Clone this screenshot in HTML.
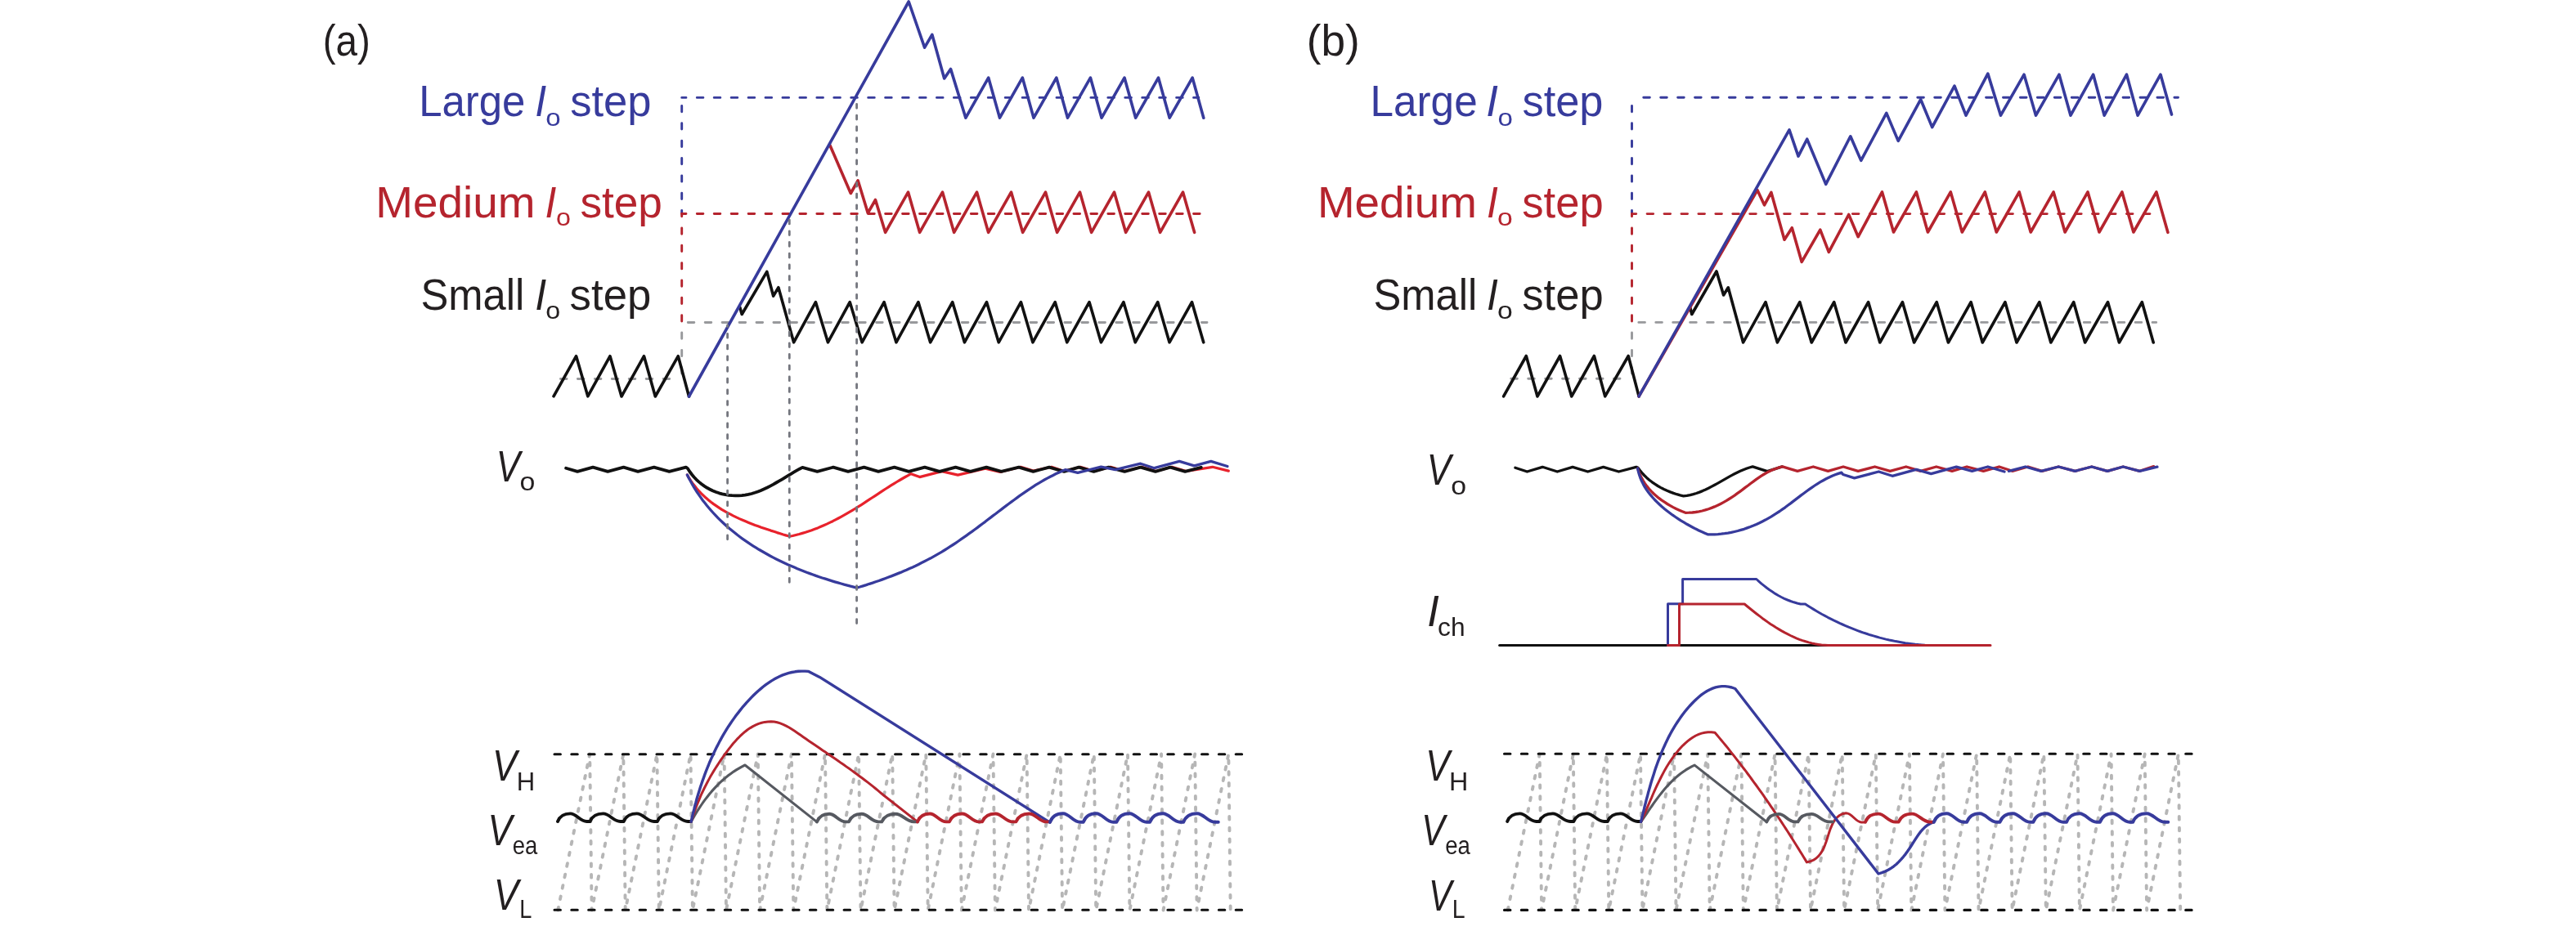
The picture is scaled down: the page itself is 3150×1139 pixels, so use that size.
<!DOCTYPE html>
<html><head><meta charset="utf-8"><title>Load-step transient waveforms</title>
<style>html,body{margin:0;padding:0;background:#fff}svg{display:block}text{font-family:"Liberation Sans",sans-serif}</style></head>
<body><svg width="3150" height="1139" viewBox="0 0 3150 1139">
<defs><filter id="nolcd" filterUnits="userSpaceOnUse" x="0" y="0" width="3150" height="1139"><feOffset dx="0" dy="0"/></filter></defs>
<rect width="3150" height="1139" fill="#fff"/>
<path d="M684,463.5 L832,463.5" stroke="#98999c" stroke-width="2.9" fill="none" stroke-dasharray="7.6 13.34" stroke-linecap="round" stroke-dashoffset="19.49"/>
<path d="M833.7,119.4 L833.7,261.5" stroke="#373b9c" stroke-width="2.9" fill="none" stroke-dasharray="7.3 14.05" stroke-linecap="round" stroke-dashoffset="11.30"/>
<path d="M833.7,261.5 L833.7,394.5" stroke="#b5242e" stroke-width="2.9" fill="none" stroke-dasharray="7.3 14.05" stroke-linecap="round" stroke-dashoffset="3.95"/>
<path d="M833.7,394.5 L833.7,463.5" stroke="#98999c" stroke-width="2.9" fill="none" stroke-dasharray="7.3 14.05" stroke-linecap="round" stroke-dashoffset="8.85"/>
<path d="M839,394.5 L1476,394.5" stroke="#98999c" stroke-width="2.9" fill="none" stroke-dasharray="7.6 13.34" stroke-linecap="round" stroke-dashoffset="18.69"/>
<path d="M833.7,261.5 L1469.4,261.5" stroke="#b5242e" stroke-width="2.9" fill="none" stroke-dasharray="7.6 13.34" stroke-linecap="round" stroke-dashoffset="2.35"/>
<path d="M833.7,119.4 L1465.8,119.4" stroke="#373b9c" stroke-width="2.9" fill="none" stroke-dasharray="7.6 13.34" stroke-linecap="round" stroke-dashoffset="2.35"/>
<path d="M677,484.8 L704.6,435.7 L718.8,484.8 L746,435.7 L760,485 L787.5,435.7 L801.3,485 L829.3,435.7 L842.5,485" stroke="#111111" stroke-width="3.6" fill="none" stroke-linejoin="round" stroke-linecap="round" />
<path d="M904.7,375.8 L907.2,384.5 L937.8,332.4 L945.7,362.2 L951.9,351.7 L970.6,418.8 L997.4,369.6 L1012.4,418.8 L1039.2,369.6 L1054.1,418.8 L1081.1,369.6 L1095.9,418.8 L1122.9,369.6 L1137.6,418.8 L1164.7,369.6 L1179.4,418.8 L1206.5,369.6 L1221.2,418.8 L1248.4,369.6 L1262.9,418.8 L1290.2,369.6 L1304.7,418.8 L1332,369.6 L1346.4,418.8 L1373.9,369.6 L1388.2,418.8 L1415.7,369.6 L1430,418.8 L1457.5,369.6 L1471.7,418.8" stroke="#111111" stroke-width="3.6" fill="none" stroke-linejoin="round" stroke-linecap="round" />
<path d="M1014.9,177.8 L1040.3,236.5 L1049.1,220.8 L1061.3,260.6 L1070.5,244.5 L1082.6,284.3 L1110.5,235.1 L1124.6,284.3 L1152.5,235.1 L1166.6,284.3 L1194.5,235.1 L1208.6,284.3 L1236.5,235.1 L1250.6,284.3 L1278.5,235.1 L1292.6,284.3 L1320.5,235.1 L1334.6,284.3 L1362.5,235.1 L1376.6,284.3 L1404.5,235.1 L1418.6,284.3 L1446.5,235.1 L1460.6,284.3" stroke="#b5242e" stroke-width="3.6" fill="none" stroke-linejoin="round" stroke-linecap="round" />
<path d="M842.5,485 L1111.2,2 L1130.6,58.2 L1139.8,42.3 L1154.7,96 L1162.5,84.4 L1180.9,144.2 L1208.7,95.1 L1222.5,144.2 L1250.3,95.1 L1264,144.2 L1291.8,95.1 L1305.5,144.2 L1333.4,95.1 L1347.1,144.2 L1375,95.1 L1388.7,144.2 L1416.5,95.1 L1430.2,144.2 L1458.1,95.1 L1471.8,144.2" stroke="#373b9c" stroke-width="3.6" fill="none" stroke-linejoin="round" stroke-linecap="round" />
<path d="M840.4,581 L842.5,584.6 L844.7,588.1 L847,591.4 L849.5,594.6 L852,597.7 L854.7,600.7 L857.4,603.6 L860.3,606.4 L863.2,609.1 L866.3,611.7 L869.4,614.2 L872.6,616.6 L875.9,618.9 L879.2,621.1 L882.6,623.3 L886.1,625.3 L889.6,627.3 L893.2,629.2 L896.8,631.1 L900.5,632.9 L904.2,634.6 L908,636.2 L911.7,637.8 L915.6,639.4 L919.4,640.9 L923.2,642.4 L927.1,643.8 L930.9,645.2 L934.8,646.5 L938.7,647.8 L942.5,649.1 L946.4,650.3 L950.2,651.6 L954,652.8 L957.8,654 L961.6,655.1 L965.3,656.3 L969.3,655.5 L973.3,654.5 L977.2,653.5 L981.1,652.4 L984.9,651.3 L988.7,650 L992.5,648.7 L996.3,647.3 L1000,645.9 L1003.7,644.3 L1007.3,642.7 L1011,641.1 L1014.6,639.4 L1018.2,637.7 L1021.7,635.9 L1025.3,634 L1028.8,632.1 L1032.3,630.2 L1035.8,628.2 L1039.2,626.2 L1042.7,624.1 L1046.1,622 L1049.5,619.9 L1052.9,617.8 L1056.3,615.6 L1059.6,613.4 L1063,611.2 L1066.3,609 L1069.7,606.8 L1073.1,604.6 L1076.4,602.4 L1079.8,600.2 L1083.1,598 L1086.5,595.9 L1089.9,593.7 L1093.3,591.6 L1096.7,589.5 L1100.1,587.5 L1103.5,585.5 L1107,583.5 L1110.5,581.6 L1114,579.7 L1124.6,583.6 L1151.7,576.6 L1171.3,581.1 L1204.8,573.3 L1223,577.5 L1248.1,571.3 L1263.5,576.1 L1285.8,571.3 L1301.2,576.5 L1321,571.3 L1338,576.5 L1358,571.3 L1375.5,576.5 L1396,571.3 L1413.5,576.5 L1433,571.3 L1450.5,576.5 L1482.7,571.3 L1502.3,576.1" stroke="#e8222c" stroke-width="3.2" fill="none" stroke-linejoin="round" stroke-linecap="round" />
<path d="M692.1,572.7 L706.1,576.9 L725.1,571.6 L743.2,576.9 L762.5,571.6 L780.1,576.9 L799.7,571.6 L818.4,576.9 L838.8,571.6 L841,573.3 L843.4,577 L846,580.5 L848.7,583.7 L851.6,586.8 L854.7,589.6 L857.9,592.2 L861.2,594.6 L864.6,596.8 L868.2,598.7 L871.8,600.5 L875.6,602 L879.4,603.3 L883.2,604.3 L887.2,605.2 L891.1,605.8 L895.1,606.2 L899.1,606.4 L903.1,606.4 L907.1,606.1 L911.1,605.6 L915.1,604.9 L919,604 L922.9,602.8 L926.8,601.5 L930.6,600 L934.4,598.3 L938.2,596.5 L941.9,594.6 L945.6,592.6 L949.2,590.5 L952.9,588.4 L956.5,586.3 L960.1,584.1 L963.7,581.9 L967.2,579.8 L970.7,577.7 L974.2,575.7 L977.7,573.7 L981.2,571.9 L999.4,576.9 L1018.9,571.6 L1037.1,576.9 L1056.5,571.6 L1074.1,576.9 L1093.6,571.6 L1111.2,576.9 L1130.8,571.6 L1148.9,576.9 L1168.5,571.6 L1186.6,576.9 L1206.2,571.6 L1224.4,576.9 L1245.9,571.6 L1263.5,576.9 L1283,571.6 L1301.2,576.9 L1319.3,571.6 L1337.5,576.9 L1355.6,571.6 L1375.2,576.9 L1394.7,571.6 L1412.9,576.9 L1431,571.6 L1449.2,576.9 L1468.8,571.9" stroke="#111111" stroke-width="3.8" fill="none" stroke-linejoin="round" stroke-linecap="round" />
<path d="M840.4,581 L842.2,584.7 L844.2,588.3 L846.2,591.9 L848.2,595.4 L850.3,598.9 L852.5,602.3 L854.8,605.6 L857.1,608.9 L859.4,612.2 L861.9,615.3 L864.4,618.5 L866.9,621.5 L869.5,624.5 L872.2,627.5 L874.9,630.4 L877.7,633.3 L880.5,636.1 L883.3,638.8 L886.2,641.5 L889.2,644.2 L892.2,646.8 L895.3,649.3 L898.4,651.8 L901.5,654.3 L904.7,656.7 L907.9,659.1 L911.2,661.4 L914.5,663.7 L917.8,665.9 L921.2,668.1 L924.6,670.2 L928,672.3 L931.5,674.3 L935,676.3 L938.5,678.3 L942,680.2 L945.6,682.1 L949.2,683.9 L952.8,685.7 L956.5,687.5 L960.2,689.2 L963.9,690.9 L967.6,692.5 L971.3,694.1 L975,695.7 L978.8,697.2 L982.6,698.7 L986.4,700.2 L990.2,701.6 L994,703 L997.8,704.4 L1001.6,705.7 L1005.4,707 L1009.3,708.2 L1013.1,709.4 L1016.9,710.6 L1020.8,711.8 L1024.6,712.9 L1028.5,714 L1032.3,715.1 L1036.1,716.1 L1040,717.2 L1043.8,718.1 L1047.6,719.1 L1051.5,718 L1055.4,716.8 L1059.3,715.6 L1063.1,714.3 L1067,713.1 L1070.8,711.8 L1074.7,710.5 L1078.5,709.1 L1082.3,707.7 L1086.1,706.3 L1089.9,704.9 L1093.7,703.4 L1097.4,701.9 L1101.2,700.4 L1104.9,698.8 L1108.6,697.2 L1112.3,695.5 L1116,693.9 L1119.7,692.2 L1123.3,690.4 L1126.9,688.6 L1130.5,686.8 L1134.1,684.9 L1137.7,683.1 L1141.2,681.1 L1144.7,679.1 L1148.2,677.1 L1151.7,675.1 L1155.1,673 L1158.5,670.9 L1161.9,668.7 L1165.3,666.5 L1168.6,664.3 L1172,662 L1175.3,659.7 L1178.6,657.4 L1181.9,655.1 L1185.2,652.7 L1188.5,650.4 L1191.7,648 L1195,645.6 L1198.2,643.1 L1201.4,640.7 L1204.7,638.3 L1207.9,635.8 L1211.1,633.4 L1214.3,630.9 L1217.6,628.5 L1220.8,626 L1224,623.6 L1227.2,621.1 L1230.5,618.7 L1233.7,616.3 L1236.9,613.9 L1240.2,611.5 L1243.4,609.1 L1246.7,606.7 L1250,604.4 L1253.3,602.1 L1256.6,599.8 L1260,597.6 L1263.4,595.4 L1266.7,593.2 L1270.2,591.1 L1273.6,589.1 L1277.1,587 L1280.6,585.1 L1284.2,583.2 L1287.8,581.4 L1291.4,579.6 L1295.1,577.9 L1298.8,576.3 L1302.6,574.7 L1317.9,578.3 L1346.4,571.1 L1364,574.7 L1394.7,567.2 L1411.5,572.7 L1442.2,564.4 L1460.4,569.9 L1480.8,564.4 L1500.9,570.5" stroke="#373b9c" stroke-width="3.3" fill="none" stroke-linejoin="round" stroke-linecap="round" />
<path d="M889.6,659.8 L889.6,398" stroke="#74767e" stroke-width="2.8" fill="none" stroke-dasharray="4.8 8.9" stroke-linecap="round" stroke-dashoffset="0"/>
<path d="M965.3,712.3 L965.3,265" stroke="#74767e" stroke-width="2.8" fill="none" stroke-dasharray="4.8 8.9" stroke-linecap="round" stroke-dashoffset="0"/>
<path d="M1047.6,762.5 L1047.6,123" stroke="#74767e" stroke-width="2.8" fill="none" stroke-dasharray="4.8 8.9" stroke-linecap="round" stroke-dashoffset="0"/>
<path d="M682.2,1113.5 L721.2,922.5 L723.6,1113.5 L762.3,922.5 L764.7,1113.5 L803.4,922.5 L805.8,1113.5 L844.5,922.5 L846.9,1113.5 L885.6,922.5 L888,1113.5 L926.8,922.5 L929.1,1113.5 L967.9,922.5 L970.3,1113.5 L1009,922.5 L1011.4,1113.5 L1050.1,922.5 L1052.5,1113.5 L1091.2,922.5 L1093.6,1113.5 L1132.3,922.5 L1134.7,1113.5 L1173.4,922.5 L1175.8,1113.5 L1214.5,922.5 L1216.9,1113.5 L1255.6,922.5 L1258,1113.5 L1296.7,922.5 L1299.1,1113.5 L1337.8,922.5 L1340.2,1113.5 L1379,922.5 L1381.4,1113.5 L1420.1,922.5 L1422.5,1113.5 L1461.2,922.5 L1463.6,1113.5 L1502.3,922.5 L1504.7,1113.5" stroke="#b6b6b6" stroke-width="3.9" fill="none" stroke-dasharray="3.6 10.1" stroke-linecap="round" stroke-linejoin="round"/>
<path d="M1843.7,1113.5 L1882.7,922.5 L1885.1,1113.5 L1923.8,922.5 L1926.2,1113.5 L1964.9,922.5 L1967.3,1113.5 L2006,922.5 L2008.4,1113.5 L2047.1,922.5 L2049.5,1113.5 L2088.2,922.5 L2090.7,1113.5 L2129.4,922.5 L2131.8,1113.5 L2170.5,922.5 L2172.9,1113.5 L2211.6,922.5 L2214,1113.5 L2252.7,922.5 L2255.1,1113.5 L2293.8,922.5 L2296.2,1113.5 L2334.9,922.5 L2337.3,1113.5 L2376,922.5 L2378.4,1113.5 L2417.1,922.5 L2419.5,1113.5 L2458.2,922.5 L2460.6,1113.5 L2499.3,922.5 L2501.8,1113.5 L2540.5,922.5 L2542.9,1113.5 L2581.6,922.5 L2584,1113.5 L2622.7,922.5 L2625.1,1113.5 L2663.8,922.5 L2666.2,1113.5" stroke="#b6b6b6" stroke-width="3.9" fill="none" stroke-dasharray="3.6 10.1" stroke-linecap="round" stroke-linejoin="round"/>
<path d="M678,922.7 L1520,922.7" stroke="#111111" stroke-width="3.1" fill="none" stroke-dasharray="7.4 13.43" stroke-linecap="round" stroke-dashoffset="0"/>
<path d="M678,1113.3 L1520,1113.3" stroke="#111111" stroke-width="3.1" fill="none" stroke-dasharray="7.4 13.43" stroke-linecap="round" stroke-dashoffset="0"/>
<path d="M1839.5,922.3 L2681.5,922.3" stroke="#111111" stroke-width="3.1" fill="none" stroke-dasharray="7.4 13.43" stroke-linecap="round" stroke-dashoffset="0"/>
<path d="M1839.5,1113.4 L2681.5,1113.4" stroke="#111111" stroke-width="3.1" fill="none" stroke-dasharray="7.4 13.43" stroke-linecap="round" stroke-dashoffset="0"/>
<path d="M682,1005 C684.8,997.8 690.3,995.4 697.4,995.4 C704.9,995.4 709.3,1005 717.5,1005 L721.5,1005 C724.4,997.8 730.2,995.4 737.6,995.4 C745.4,995.4 749.9,1005 758.6,1005 L762.7,1005 C765.6,997.8 771.3,995.4 778.7,995.4 C786.5,995.4 791.1,1005 799.7,1005 L803.8,1005 C806.7,997.8 812.5,995.4 819.9,995.4 C827.8,995.4 832.4,1005 841.1,1005 L845.2,1005" stroke="#111111" stroke-width="3.9" fill="none" stroke-linejoin="round" stroke-linecap="round" />
<path d="M845.2,1005.2 L847.1,1001.7 L849.1,998.2 L851.2,994.8 L853.3,991.3 L855.5,987.9 L857.8,984.5 L860.1,981.2 L862.5,977.9 L865,974.7 L867.5,971.5 L870.1,968.4 L872.8,965.4 L875.6,962.4 L878.4,959.5 L881.3,956.7 L884.3,954 L887.4,951.4 L890.5,948.8 L893.7,946.4 L897,944.1 L900.4,941.9 L903.9,939.8 L907.4,937.8 L911,936 L999,1005.6 " stroke="#565960" stroke-width="3.1" fill="none" stroke-linejoin="round" stroke-linecap="round" />
<path d="M845.2,1005.2 L846.5,1001.2 L847.8,997.2 L849.1,993.3 L850.5,989.5 L851.9,985.7 L853.4,981.9 L854.9,978.3 L856.4,974.6 L858,971 L859.7,967.5 L861.4,964 L863.2,960.5 L865,957 L866.8,953.6 L868.7,950.1 L870.7,946.7 L872.7,943.4 L874.8,940 L877,936.6 L879.2,933.2 L881.4,929.9 L883.8,926.5 L886.2,923.1 L888.6,919.8 L891.2,916.4 L893.8,913.1 L896.4,909.8 L899.2,906.7 L902,903.6 L904.9,900.7 L907.9,897.9 L911,895.2 L914.1,892.8 L917.4,890.6 L920.7,888.6 L924.2,886.9 L927.7,885.4 L931.4,884.3 L935.1,883.4 L939,883 L942.8,882.8 L946.6,883.1 L950.4,883.8 L954.1,884.9 L957.7,886.3 L961.4,888.1 L964.9,890 L968.5,892.2 L972,894.5 L975.5,896.9 L978.9,899.3 L982.3,901.7 L985.7,904.1 L989.1,906.4 L992.5,908.8 L995.9,911.1 L999.2,913.3 L1002.5,915.6 L1005.9,917.9 L1009.2,920.1 L1012.5,922.4 L1015.7,924.6 L1019,926.8 L1022.3,929.1 L1025.5,931.3 L1028.7,933.6 L1032,935.8 L1035.2,938.1 L1038.4,940.3 L1041.6,942.6 L1044.8,945 L1048,947.3 L1051.2,949.7 L1054.4,952 L1057.6,954.5 L1060.8,956.9 L1064,959.4 L1067.2,961.9 L1070.4,964.5 L1073.6,967.1 L1076.8,969.8 L1080,972.5 L1121.9,1005.4 " stroke="#b5242e" stroke-width="3.0" fill="none" stroke-linejoin="round" stroke-linecap="round" />
<path d="M845.2,1005.2 L846,1001.4 L846.9,997.6 L847.8,993.7 L848.8,989.9 L849.7,986 L850.8,982.2 L851.8,978.3 L852.9,974.4 L854.1,970.6 L855.3,966.7 L856.5,962.8 L857.8,959 L859.1,955.1 L860.5,951.3 L861.9,947.4 L863.3,943.6 L864.8,939.8 L866.4,936 L867.9,932.2 L869.6,928.4 L871.3,924.7 L873,921 L874.8,917.3 L876.6,913.6 L878.5,910 L880.4,906.3 L882.4,902.7 L884.4,899.2 L886.5,895.7 L888.6,892.2 L890.8,888.7 L893.1,885.3 L895.4,881.9 L897.7,878.6 L900.1,875.3 L902.6,872.1 L905.1,868.9 L907.6,865.7 L910.3,862.6 L912.9,859.6 L915.7,856.6 L918.5,853.6 L921.3,850.8 L924.2,848 L927.2,845.2 L930.3,842.6 L933.4,840 L936.5,837.6 L939.8,835.3 L943.1,833.1 L946.5,831.1 L949.9,829.2 L953.4,827.5 L957,825.9 L960.7,824.6 L964.5,823.4 L968.3,822.5 L972.2,821.8 L976.3,821.3 L980.3,821.1 L984.5,821.1 L988.8,821.4 L1002.3,828.4 L1283.8,1006.1 " stroke="#373b9c" stroke-width="3.4" fill="none" stroke-linejoin="round" stroke-linecap="round" />
<path d="M999,1005.4 C1001.7,998.2 1007.2,995.8 1014.2,995.8 C1021.6,995.8 1025.9,1005.4 1034.1,1005.4 L1038,1005.4 C1040.8,998.2 1046.4,995.8 1053.7,995.8 C1061.3,995.8 1065.7,1005.4 1074.2,1005.4 L1078.2,1005.4 C1081.3,998.2 1087.4,995.8 1095.2,995.8 C1103.5,995.8 1108.4,1005.4 1117.5,1005.4 L1121.9,1005.4" stroke="#565960" stroke-width="3.9" fill="none" stroke-linejoin="round" stroke-linecap="round" />
<path d="M1121.9,1005.4 C1124.6,998 1130.1,995.5 1137.1,995.5 C1144.5,995.5 1148.8,1005.4 1157,1005.4 L1160.9,1005.4 C1163.7,998 1169.3,995.5 1176.6,995.5 C1184.2,995.5 1188.6,1005.4 1197.1,1005.4 L1201.1,1005.4 C1204,998 1209.8,995.5 1217.2,995.5 C1225.1,995.5 1229.6,1005.4 1238.3,1005.4 L1242.4,1005.4 C1245.3,998 1251.1,995.5 1258.5,995.5 C1266.4,995.5 1271,1005.4 1279.7,1005.4 L1283.8,1005.4" stroke="#b5242e" stroke-width="3.9" fill="none" stroke-linejoin="round" stroke-linecap="round" />
<path d="M1284,1005.8 C1286.8,997.9 1292.5,995.2 1299.9,995.2 C1307.6,995.2 1312.1,1005.8 1320.6,1005.8 L1324.7,1005.8 C1327.5,997.9 1333.2,995.2 1340.5,995.2 C1348.2,995.2 1352.7,1005.8 1361.2,1005.8 L1365.3,1005.8 C1368.2,997.9 1373.9,995.2 1381.2,995.2 C1389,995.2 1393.5,1005.8 1402,1005.8 L1406.1,1005.8 C1409,997.9 1414.7,995.2 1422.1,995.2 C1429.9,995.2 1434.5,1005.8 1443.1,1005.8 L1447.2,1005.8 C1450.2,997.9 1456.1,995.2 1463.8,995.2 C1471.9,995.2 1476.6,1005.8 1485.5,1005.8 L1489.8,1005.8" stroke="#373b9c" stroke-width="3.9" fill="none" stroke-linejoin="round" stroke-linecap="round" />
<path d="M1846.3,463.2 L1994,463.2" stroke="#98999c" stroke-width="2.9" fill="none" stroke-dasharray="7.6 13.34" stroke-linecap="round" stroke-dashoffset="19.49"/>
<path d="M1995.5,119.2 L1995.5,261.6" stroke="#373b9c" stroke-width="2.9" fill="none" stroke-dasharray="7.3 14.05" stroke-linecap="round" stroke-dashoffset="11.10"/>
<path d="M1995.5,261.6 L1995.5,394.4" stroke="#b5242e" stroke-width="2.9" fill="none" stroke-dasharray="7.3 14.05" stroke-linecap="round" stroke-dashoffset="4.05"/>
<path d="M1995.5,394.4 L1995.5,463.2" stroke="#98999c" stroke-width="2.9" fill="none" stroke-dasharray="7.3 14.05" stroke-linecap="round" stroke-dashoffset="8.75"/>
<path d="M2001,394.4 L2636.7,394.4" stroke="#98999c" stroke-width="2.9" fill="none" stroke-dasharray="7.6 13.34" stroke-linecap="round" stroke-dashoffset="18.09"/>
<path d="M1995.5,261.6 L2631,261.6" stroke="#b5242e" stroke-width="2.9" fill="none" stroke-dasharray="7.6 13.34" stroke-linecap="round" stroke-dashoffset="2.35"/>
<path d="M2007,119.2 L2663.5,119.2" stroke="#373b9c" stroke-width="2.9" fill="none" stroke-dasharray="7.6 13.34" stroke-linecap="round" stroke-dashoffset="18.19"/>
<path d="M1838.6,484.9 L1866.3,435.5 L1880,484.9 L1907.6,435.5 L1921.8,484.9 L1949.4,435.5 L1962.7,484.9 L1991.2,435.5 L2004.1,484.9" stroke="#111111" stroke-width="3.6" fill="none" stroke-linejoin="round" stroke-linecap="round" />
<path d="M2066.7,376.3 L2068.8,384.5 L2099,332 L2107.6,361 L2113.3,351.8 L2131.6,419 L2159,369.6 L2173.4,419 L2200.8,369.6 L2215.2,419 L2242.7,369.6 L2257,419 L2284.6,369.6 L2298.8,419 L2326.4,369.6 L2340.6,419 L2368.2,369.6 L2382.4,419 L2410.1,369.6 L2424.2,419 L2451.9,369.6 L2466,419 L2493.8,369.6 L2507.8,419 L2535.7,369.6 L2549.6,419 L2577.5,369.6 L2591.4,419 L2619.3,369.6 L2633.2,419" stroke="#111111" stroke-width="3.6" fill="none" stroke-linejoin="round" stroke-linecap="round" />
<path d="M2004.1,484.9 L2148.9,232.6 L2157.5,250.8 L2165.9,235.4 L2182,293.2 L2191.3,278.7 L2203.2,320.4 L2225.8,281.1 L2236.3,308.3 L2260.7,262.5 L2272.2,289.7 L2301.5,234.9 L2315.5,284 L2343.4,234.9 L2357.4,284 L2385.3,234.9 L2399.3,284 L2427.3,234.9 L2441.3,284 L2469.2,234.9 L2483.2,284 L2511.1,234.9 L2525.1,284 L2553,234.9 L2567,284 L2594.9,234.9 L2608.9,284 L2636.9,234.9 L2650.9,284.3" stroke="#b5242e" stroke-width="3.6" fill="none" stroke-linejoin="round" stroke-linecap="round" />
<path d="M2004.1,484.9 L2188,158.8 L2199,191.1 L2209.7,170.2 L2232.7,225.4 L2262.8,166.8 L2275.7,196.4 L2306.8,138.4 L2321.2,172.4 L2348.7,121.7 L2362.7,155.6 L2390,105.1 L2404,141.2 L2430.8,90.1 L2446.5,141.2 L2475.1,91.2 L2489.5,141.2 L2518,91.2 L2532,141.2 L2559.7,91.2 L2573.2,141.2 L2600.5,91.2 L2614.1,141.2 L2642,91.2 L2655.5,140.1" stroke="#373b9c" stroke-width="3.6" fill="none" stroke-linejoin="round" stroke-linecap="round" />
<path d="M1852.9,572.3 L1867.4,577 L1886.2,571.3 L1904.3,577 L1923.1,571.3 L1941.6,577 L1960.6,571.3 L1979.4,577 L2000.8,571.3 L2002.7,572 L2005,575.1 L2007.7,578.4 L2010.6,581.5 L2013.6,584.4 L2016.8,587.2 L2020.2,589.8 L2023.6,592.2 L2027.2,594.5 L2030.9,596.6 L2034.6,598.5 L2038.5,600.3 L2042.4,601.9 L2046.4,603.4 L2050.4,604.7 L2054.5,605.9 L2058.6,606.9 L2062.7,606.4 L2066.7,605.6 L2070.6,604.6 L2074.4,603.5 L2078.2,602.1 L2081.9,600.6 L2085.6,599 L2089.2,597.3 L2092.7,595.4 L2096.3,593.5 L2099.8,591.6 L2103.3,589.6 L2106.8,587.6 L2110.3,585.6 L2113.8,583.6 L2117.4,581.6 L2120.9,579.8 L2124.5,578 L2128.1,576.3 L2131.8,574.7 L2135.5,573.3 L2139.3,572 L2143.2,570.9 L2161.1,576.6 L2179.3,570.9" stroke="#111111" stroke-width="3.3" fill="none" stroke-linejoin="round" stroke-linecap="round" />
<path d="M2002.6,573 L2003.9,577 L2005.5,580.8 L2007.3,584.6 L2009.3,588.1 L2011.5,591.6 L2013.9,594.9 L2016.5,598 L2019.3,601.1 L2022.2,604 L2025.3,606.7 L2028.5,609.4 L2031.8,611.9 L2035.3,614.2 L2038.8,616.5 L2042.4,618.6 L2046,620.6 L2049.7,622.5 L2053.5,624.2 L2057.2,625.8 L2061,627.3 L2065.2,627.2 L2069.4,627 L2073.5,626.5 L2077.5,625.8 L2081.5,625 L2085.4,623.9 L2089.2,622.7 L2092.9,621.4 L2096.6,619.9 L2100.3,618.3 L2103.9,616.5 L2107.4,614.6 L2110.9,612.6 L2114.3,610.5 L2117.7,608.3 L2121.1,606.1 L2124.4,603.7 L2127.7,601.3 L2131,598.9 L2134.2,596.4 L2137.5,594 L2140.7,591.5 L2144,589.1 L2147.3,586.7 L2150.6,584.4 L2153.9,582.2 L2157.4,580 L2160.8,578.1 L2164.4,576.3 L2168,574.6 L2171.8,573.2 L2175.6,571.9 L2179.6,570.9 L2198,576.3 L2217.3,571 L2235.4,576.3 L2254,571 L2272.1,576.3 L2292.6,571 L2311.2,576.3 L2330.8,571 L2348.6,576.3 L2367.8,571 L2387,576.3 L2405.1,571 L2425.4,576.3 L2444.6,571 L2460.7,576.3 L2479.9,571 L2497,576.3 L2517.2,571 L2537.5,576.3 L2557.8,571 L2577,576.3 L2596.2,571 L2616.5,576.3 L2633.6,570.6" stroke="#b5242e" stroke-width="3.3" fill="none" stroke-linejoin="round" stroke-linecap="round" />
<path d="M2002.6,573 L2003.5,577.1 L2004.6,581 L2005.9,584.8 L2007.5,588.5 L2009.3,592.1 L2011.2,595.6 L2013.4,599 L2015.7,602.2 L2018.2,605.4 L2020.8,608.5 L2023.5,611.5 L2026.4,614.4 L2029.4,617.3 L2032.4,620 L2035.6,622.7 L2038.8,625.2 L2042.1,627.7 L2045.4,630.2 L2048.8,632.5 L2052.3,634.8 L2055.8,637.1 L2059.3,639.2 L2062.8,641.3 L2066.4,643.3 L2070,645.2 L2073.6,647.1 L2077.3,648.9 L2080.9,650.6 L2084.6,652.2 L2088.2,653.8 L2092.4,653.9 L2096.6,653.8 L2100.7,653.6 L2104.8,653.2 L2108.9,652.7 L2113,652.1 L2117,651.4 L2120.9,650.5 L2124.9,649.5 L2128.8,648.4 L2132.7,647.3 L2136.5,645.9 L2140.3,644.5 L2144.1,643 L2147.8,641.4 L2151.5,639.7 L2155.1,637.9 L2158.7,636.1 L2162.3,634.1 L2165.8,632.1 L2169.3,629.9 L2172.8,627.7 L2176.2,625.5 L2179.5,623.2 L2182.9,620.8 L2186.2,618.3 L2189.5,615.9 L2192.7,613.4 L2196,610.9 L2199.3,608.4 L2202.5,605.9 L2205.8,603.5 L2209.1,601 L2212.4,598.7 L2215.7,596.3 L2219.1,594 L2222.5,591.8 L2226,589.7 L2229.5,587.7 L2233,585.8 L2236.7,584 L2240.4,582.3 L2244.1,580.8 L2248,579.4 L2251.9,578.2 L2253.7,580.5 L2267.6,584.8 L2297.3,577 L2314,582.3 L2343.2,574.4 L2361.4,579.7 L2392.3,571.2 L2411.5,576.3 L2430.8,571 L2451,577 M2456.4,576.3 L2476.7,571 L2495.9,576.3 L2517.2,571 L2537.5,576.3 L2557.8,571 L2577,576.3 L2596.2,571 L2616.5,576.3 L2637.9,571.2" stroke="#373b9c" stroke-width="3.3" fill="none" stroke-linejoin="round" stroke-linecap="round" />
<path d="M1833.7,789.5 L2244,789.5" stroke="#111111" stroke-width="3.1" fill="none" stroke-linejoin="round" stroke-linecap="round" />
<path d="M2039.5,789.5 L2039.5,738.8 L2057.6,738.8 L2057.6,708.5 L2147.8,708.5 L2150.9,711.3 L2154,714.1 L2157.2,716.7 L2160.5,719.3 L2163.9,721.8 L2167.4,724.1 L2170.9,726.4 L2174.5,728.5 L2178.2,730.5 L2181.9,732.3 L2185.8,734 L2189.7,735.5 L2193.6,736.8 L2197.6,738 L2201.7,739 L2207.5,739 L2210.9,741.2 L2214.2,743.3 L2217.6,745.4 L2221.1,747.5 L2224.5,749.5 L2228,751.5 L2231.6,753.4 L2235.1,755.3 L2238.7,757.1 L2242.2,758.9 L2245.9,760.7 L2249.5,762.4 L2253.2,764 L2256.8,765.6 L2260.5,767.2 L2264.2,768.7 L2268,770.2 L2271.7,771.6 L2275.5,773 L2279.3,774.3 L2283.1,775.5 L2286.9,776.8 L2290.8,777.9 L2294.6,779 L2298.5,780.1 L2302.4,781.1 L2306.3,782.1 L2310.2,783 L2314.1,783.8 L2318,784.6 L2322,785.3 L2325.9,786 L2329.9,786.7 L2333.9,787.2 L2337.8,787.7 L2341.8,788.2 L2345.8,788.6 L2349.8,788.9 L2353.8,789.2 L2357.8,789.4 L2361.8,789.6" stroke="#373b9c" stroke-width="3" fill="none" stroke-linejoin="round" stroke-linecap="round" />
<path d="M2039.5,789.5 L2053.5,789.5 L2053.5,739 L2133.2,739 L2136.2,741.5 L2139.3,744 L2142.4,746.5 L2145.5,749 L2148.7,751.5 L2151.9,753.9 L2155.1,756.4 L2158.4,758.7 L2161.7,761.1 L2165,763.4 L2168.4,765.6 L2171.8,767.8 L2175.3,769.9 L2178.7,771.9 L2182.3,773.9 L2185.8,775.7 L2189.4,777.5 L2193,779.2 L2196.7,780.8 L2200.4,782.3 L2204.1,783.6 L2207.9,784.8 L2211.7,785.9 L2215.6,786.9 L2219.5,787.8 L2223.4,788.4 L2227.4,789 L2231.4,789.3 L2235.4,789.6 L2239.5,789.6 L2434,789.6" stroke="#b5242e" stroke-width="3" fill="none" stroke-linejoin="round" stroke-linecap="round" />
<path d="M1843.1,1005 C1845.9,997.8 1851.4,995.4 1858.5,995.4 C1866,995.4 1870.3,1005 1878.6,1005 L1882.5,1005 C1885.4,997.8 1891.3,995.4 1898.8,995.4 C1906.7,995.4 1911.3,1005 1920.1,1005 L1924.3,1005 C1927.2,997.8 1933,995.4 1940.5,995.4 C1948.4,995.4 1952.9,1005 1961.6,1005 L1965.8,1005 C1968.6,997.8 1974.3,995.4 1981.7,995.4 C1989.4,995.4 1993.9,1005 2002.4,1005 L2006.5,1005" stroke="#111111" stroke-width="3.9" fill="none" stroke-linejoin="round" stroke-linecap="round" />
<path d="M2006.6,1005.3 L2008.9,1002 L2011.1,998.8 L2013.4,995.5 L2015.7,992.1 L2017.9,988.8 L2020.3,985.5 L2022.6,982.2 L2025,978.9 L2027.4,975.6 L2029.9,972.4 L2032.4,969.2 L2035,966.1 L2037.6,963 L2040.3,960.1 L2043.1,957.1 L2045.9,954.3 L2048.9,951.6 L2051.9,949 L2055,946.5 L2058.2,944.2 L2061.5,941.9 L2065,939.8 L2068.5,937.9 L2072.2,936.1 L2160.3,1005.5 " stroke="#565960" stroke-width="3.1" fill="none" stroke-linejoin="round" stroke-linecap="round" />
<path d="M2006.6,1005.3 L2008.2,1001.8 L2009.9,998.2 L2011.5,994.5 L2013.1,990.9 L2014.7,987.1 L2016.3,983.4 L2017.9,979.6 L2019.6,975.8 L2021.2,972 L2022.9,968.2 L2024.6,964.3 L2026.4,960.5 L2028.2,956.8 L2030.1,953 L2032,949.3 L2033.9,945.6 L2035.9,941.9 L2038,938.3 L2040.2,934.8 L2042.4,931.3 L2044.8,927.9 L2047.2,924.5 L2049.7,921.3 L2052.3,918.1 L2055,915.1 L2057.8,912.1 L2060.7,909.3 L2063.8,906.6 L2066.9,904.2 L2070.2,902 L2073.6,900 L2077.2,898.4 L2080.8,897.1 L2084.7,896.2 L2088.6,895.7 L2092.7,895.7 L2097,896.2 L2099.6,899.3 L2102.2,902.4 L2104.8,905.5 L2107.4,908.6 L2110,911.8 L2112.6,914.9 L2115.1,918.1 L2117.6,921.3 L2120.1,924.4 L2122.6,927.6 L2125.1,930.8 L2127.6,934 L2130.1,937.3 L2132.5,940.5 L2135,943.7 L2137.4,947 L2139.8,950.2 L2142.2,953.5 L2144.6,956.8 L2147,960 L2149.4,963.3 L2151.7,966.6 L2154.1,969.9 L2156.4,973.2 L2158.7,976.6 L2161,979.9 L2163.3,983.2 L2165.6,986.6 L2167.9,989.9 L2170.2,993.3 L2172.4,996.7 L2174.7,1000 L2176.9,1003.4 L2179.2,1006.8 L2181.4,1010.2 L2183.6,1013.6 L2185.8,1017 L2188,1020.4 L2190.2,1023.9 L2192.3,1027.3 L2194.5,1030.7 L2196.7,1034.2 L2198.8,1037.6 L2200.9,1041.1 L2203.1,1044.5 L2205.2,1048 L2207.3,1051.4 L2209.4,1054.9 L2213.8,1053.8 L2217.6,1052.2 L2220.9,1050 L2223.7,1047.4 L2226.1,1044.4 L2228.2,1041.1 L2230.1,1037.5 L2231.7,1033.6 L2233.1,1029.7 L2234.4,1025.7 L2235.7,1021.6 L2237,1017.5 L2238.4,1013.6 L2240,1009.8 L2241.8,1006.2 L2243.9,1002.9 L2246.5,999.9 L2249.5,997.5 L2253.1,995.7 L2257.3,994.8 C2265,994.8 2269,1005.9 2276,1005.9 L2281,1005.9 " stroke="#b5242e" stroke-width="3.0" fill="none" stroke-linejoin="round" stroke-linecap="round" />
<path d="M2006.6,1005.3 L2007.5,1001.5 L2008.5,997.7 L2009.4,993.8 L2010.4,989.9 L2011.3,986 L2012.3,982.1 L2013.3,978.2 L2014.4,974.3 L2015.4,970.3 L2016.5,966.4 L2017.6,962.5 L2018.7,958.5 L2019.9,954.6 L2021.1,950.7 L2022.4,946.7 L2023.6,942.8 L2024.9,938.9 L2026.3,935 L2027.7,931.2 L2029.2,927.3 L2030.7,923.5 L2032.2,919.7 L2033.8,915.9 L2035.5,912.2 L2037.2,908.4 L2039,904.8 L2040.8,901.1 L2042.7,897.5 L2044.7,893.9 L2046.8,890.4 L2048.9,886.9 L2051.1,883.5 L2053.4,880.1 L2055.7,876.8 L2058.1,873.5 L2060.6,870.3 L2063.2,867.1 L2065.9,864 L2068.7,861 L2071.6,858 L2074.5,855.2 L2077.6,852.5 L2080.7,849.9 L2084,847.6 L2087.3,845.5 L2090.7,843.7 L2094.3,842.1 L2097.9,840.9 L2101.6,840.1 L2105.5,839.6 L2109.4,839.6 L2113.4,840.1 L2117.6,841 L2121.8,842.5 L2297,1069 L2301.2,1067.7 L2305.2,1066.1 L2309,1064.3 L2312.5,1062.1 L2315.8,1059.8 L2319,1057.2 L2321.9,1054.4 L2324.7,1051.4 L2327.4,1048.3 L2330,1045.1 L2332.4,1041.7 L2334.8,1038.3 L2337.1,1034.8 L2339.4,1031.2 L2341.6,1027.7 L2343.9,1024.1 L2346.2,1020.7 L2348.7,1017.4 L2351.4,1014.4 L2354.2,1011.6 L2357.4,1009.2 L2360.9,1007.2 L2364.8,1005.6 " stroke="#373b9c" stroke-width="3.4" fill="none" stroke-linejoin="round" stroke-linecap="round" />
<path d="M2160.3,1005.4 C2163,998.3 2168.3,995.9 2175.2,995.9 C2182.5,995.9 2186.7,1005.4 2194.7,1005.4 L2198.5,1005.4 C2201.5,998.3 2207.4,995.9 2215.1,995.9 C2223.2,995.9 2227.8,1005.4 2236.8,1005.4 L2241,1005.4" stroke="#565960" stroke-width="3.9" fill="none" stroke-linejoin="round" stroke-linecap="round" />
<path d="M2281,1005.6 C2283.8,998.1 2289.5,995.6 2296.9,995.6 C2304.6,995.6 2309.1,1005.6 2317.6,1005.6 L2321.7,1005.6 C2324.7,998.1 2330.6,995.6 2338.2,995.6 C2346.2,995.6 2350.9,1005.6 2359.8,1005.6 L2364,1005.6" stroke="#b5242e" stroke-width="3.9" fill="none" stroke-linejoin="round" stroke-linecap="round" />
<path d="M2364.8,1005.8 C2367.6,997.9 2373.3,995.2 2380.5,995.2 C2388.2,995.2 2392.6,1005.8 2401.1,1005.8 L2405.1,1005.8 C2407.9,997.9 2413.6,995.2 2420.9,995.2 C2428.5,995.2 2433,1005.8 2441.5,1005.8 L2445.5,1005.8 C2448.4,997.9 2454.1,995.2 2461.4,995.2 C2469.2,995.2 2473.7,1005.8 2482.2,1005.8 L2486.3,1005.8 C2489.1,997.9 2494.8,995.2 2502.2,995.2 C2509.9,995.2 2514.4,1005.8 2522.9,1005.8 L2527,1005.8 C2529.9,997.9 2535.6,995.2 2543,995.2 C2550.7,995.2 2555.2,1005.8 2563.8,1005.8 L2567.9,1005.8 C2570.7,997.9 2576.4,995.2 2583.6,995.2 C2591.3,995.2 2595.7,1005.8 2604.2,1005.8 L2608.2,1005.8 C2611.2,997.9 2617.3,995.2 2625,995.2 C2633.2,995.2 2637.9,1005.8 2647,1005.8 L2651.3,1005.8" stroke="#373b9c" stroke-width="3.9" fill="none" stroke-linejoin="round" stroke-linecap="round" />
<g filter="url(#nolcd)">
<text transform="translate(394.64,68.30) scale(0.8988,1)" font-size="53.00" fill="#231f20">(a)</text>
<text transform="translate(1597.81,68.30) scale(1.0034,1)" font-size="53.00" fill="#231f20">(b)</text>
<text transform="translate(512.23,141.70) scale(0.9548,1)" font-size="53.33" fill="#373b9c">Large</text>
<text transform="translate(654.29,141.70) scale(0.9417,1)" font-size="53.33" fill="#373b9c" font-style="italic">I</text>
<text transform="translate(667.28,153.90) scale(1.1403,1)" font-size="28.99" fill="#373b9c">o</text>
<text transform="translate(697.22,141.70) scale(0.9859,1)" font-size="53.33" fill="#373b9c">step</text>
<text transform="translate(459.31,265.80) scale(1.0293,1)" font-size="53.33" fill="#b5242e">Medium</text>
<text transform="translate(666.61,265.80) scale(0.9333,1)" font-size="53.33" fill="#b5242e" font-style="italic">I</text>
<text transform="translate(680.11,276.20) scale(1.1113,1)" font-size="28.99" fill="#b5242e">o</text>
<text transform="translate(709.40,265.80) scale(0.9973,1)" font-size="53.33" fill="#b5242e">step</text>
<text transform="translate(514.42,378.90) scale(0.9516,1)" font-size="53.33" fill="#231f20">Small</text>
<text transform="translate(654.29,378.90) scale(0.9417,1)" font-size="53.33" fill="#231f20" font-style="italic">I</text>
<text transform="translate(667.31,389.50) scale(1.1113,1)" font-size="28.99" fill="#231f20">o</text>
<text transform="translate(696.62,378.90) scale(0.9890,1)" font-size="53.33" fill="#231f20">step</text>
<text transform="translate(1675.50,141.70) scale(0.9618,1)" font-size="53.33" fill="#373b9c">Large</text>
<text transform="translate(1817.18,141.70) scale(0.9917,1)" font-size="53.33" fill="#373b9c" font-style="italic">I</text>
<text transform="translate(1831.48,153.90) scale(1.1403,1)" font-size="28.99" fill="#373b9c">o</text>
<text transform="translate(1861.43,141.70) scale(0.9828,1)" font-size="53.33" fill="#373b9c">step</text>
<text transform="translate(1610.91,265.80) scale(1.0288,1)" font-size="53.33" fill="#b5242e">Medium</text>
<text transform="translate(1818.01,265.80) scale(0.9333,1)" font-size="53.33" fill="#b5242e" font-style="italic">I</text>
<text transform="translate(1831.05,276.40) scale(1.1621,1)" font-size="28.99" fill="#b5242e">o</text>
<text transform="translate(1861.22,265.80) scale(0.9870,1)" font-size="53.33" fill="#b5242e">step</text>
<text transform="translate(1679.42,378.90) scale(0.9516,1)" font-size="53.33" fill="#231f20">Small</text>
<text transform="translate(1818.01,378.90) scale(0.9333,1)" font-size="53.33" fill="#231f20" font-style="italic">I</text>
<text transform="translate(1831.05,389.50) scale(1.1621,1)" font-size="28.99" fill="#231f20">o</text>
<text transform="translate(1861.22,378.90) scale(0.9870,1)" font-size="53.33" fill="#231f20">step</text>
<text transform="translate(606.67,589.20) scale(0.8194,1)" font-size="53.62" fill="#231f20" font-style="italic">V</text>
<text transform="translate(635.54,600.10) scale(1.0980,1)" font-size="30.87" fill="#231f20">o</text>
<text transform="translate(602.06,955.20) scale(0.8420,1)" font-size="53.62" fill="#231f20" font-style="italic">V</text>
<text transform="translate(631.71,966.80) scale(1.0065,1)" font-size="30.87" fill="#231f20">H</text>
<text transform="translate(596.50,1034.00) scale(0.8335,1)" font-size="53.62" fill="#231f20" font-style="italic">V</text>
<text transform="translate(626.76,1045.00) scale(0.8912,1)" font-size="30.87" fill="#231f20">ea</text>
<text transform="translate(603.64,1113.10) scale(0.8477,1)" font-size="53.62" fill="#231f20" font-style="italic">V</text>
<text transform="translate(635.32,1123.40) scale(0.8808,1)" font-size="30.87" fill="#231f20">L</text>
<text transform="translate(1744.64,593.10) scale(0.8251,1)" font-size="53.62" fill="#231f20" font-style="italic">V</text>
<text transform="translate(1774.24,604.90) scale(1.0980,1)" font-size="30.87" fill="#231f20">o</text>
<text transform="translate(1743.34,955.40) scale(0.8251,1)" font-size="53.62" fill="#231f20" font-style="italic">V</text>
<text transform="translate(1772.01,967.40) scale(1.0470,1)" font-size="30.87" fill="#231f20">H</text>
<text transform="translate(1738.34,1034.20) scale(0.8025,1)" font-size="53.62" fill="#231f20" font-style="italic">V</text>
<text transform="translate(1767.15,1045.20) scale(0.8973,1)" font-size="30.87" fill="#231f20">ea</text>
<text transform="translate(1746.98,1113.70) scale(0.7940,1)" font-size="53.62" fill="#231f20" font-style="italic">V</text>
<text transform="translate(1775.72,1123.30) scale(0.9245,1)" font-size="30.87" fill="#231f20">L</text>
<text transform="translate(1745.30,766.10) scale(0.9780,1)" font-size="53.62" fill="#231f20" font-style="italic">I</text>
<text transform="translate(1758.07,778.20) scale(1.0284,1)" font-size="30.87" fill="#231f20">ch</text>
</g>
</svg></body></html>
